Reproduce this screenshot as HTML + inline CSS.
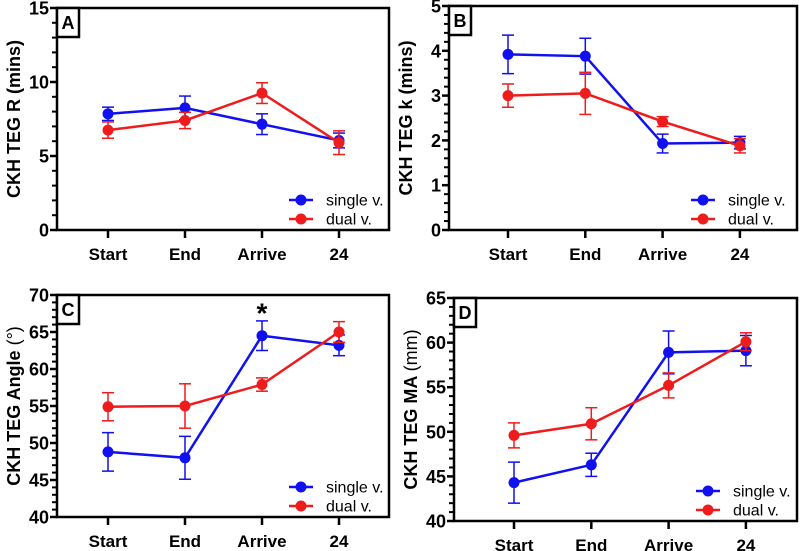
<!DOCTYPE html>
<html><head><meta charset="utf-8"><style>
html,body{margin:0;padding:0;background:#fff;}
svg{display:block;font-family:"Liberation Sans",Arial,sans-serif;}
</style></head><body>
<svg id="fig" width="800" height="551" viewBox="0 0 800 551" xmlns="http://www.w3.org/2000/svg"></svg>
<script>
const categories = ["Start","End","Arrive","24"];
const seriesNames = ["single v.","dual v."];
const aSingle = [7.85,8.25,7.15,6.05], aSingleErr = [0.45,0.8,0.7,0.5];
const aDual = [6.75,7.4,9.25,5.9], aDualErr = [0.55,0.55,0.7,0.8];
const bSingle = [3.92,3.88,1.93,1.95], bSingleErr = [0.43,0.4,0.21,0.14];
const bDual = [3.0,3.05,2.42,1.88], bDualErr = [0.26,0.47,0.11,0.16];
const cSingle = [48.8,48.0,64.5,63.2], cSingleErr = [2.6,2.9,2.0,1.4];
const cDual = [54.9,55.0,57.9,65.0], cDualErr = [1.9,3.0,0.9,1.4];
const dSingle = [44.3,46.3,58.9,59.1], dSingleErr = [2.3,1.3,2.4,1.7];
const dDual = [49.6,50.9,55.2,60.1], dDualErr = [1.4,1.8,1.4,1.0];
const aTicks = [0,5,10,15], bTicks = [0,1,2,3,4,5], cTicks = [40,45,50,55,60,65,70], dTicks = [40,45,50,55,60,65];

const NS="http://www.w3.org/2000/svg";
const svg=document.getElementById('fig');
function mk(tag,attrs,parent){const e=document.createElementNS(NS,tag);for(const k in attrs)e.setAttribute(k,attrs[k]);(parent||svg).appendChild(e);return e;}
const BLUE="#1010f0", RED="#ee1c1c";

function panel(p){
  const g=mk('g',{});
  
  
  const ymin=p.ticks[0], ymax=p.ticks[p.ticks.length-1];
  const y=v=>p.bottom-(v-ymin)/(ymax-ymin)*(p.bottom-p.top);
  const x=i=>p.x0+i*p.dx;
  const fr=mk('rect',{x:p.left,y:p.top,width:p.right-p.left,height:p.bottom-p.top,fill:'none',stroke:'#000','stroke-width':2.5},g);
  
  
  const step=p.ticks[1]-p.ticks[0];
  p.ticks.forEach((t,k)=>{
    mk('line',{x1:p.left-7,x2:p.left,y1:y(t),y2:y(t),stroke:'#000','stroke-width':2.5},g);
    const tx=mk('text',{x:p.left-8,y:y(t)+6.5,'text-anchor':'end','font-size':18,'font-weight':'bold'},g);
    tx.textContent=t;
    
    
    if(k<p.ticks.length-1){for(let m=1;m<5;m++){const v=t+step*m/5;mk('line',{x1:p.left-5,x2:p.left,y1:y(v),y2:y(v),stroke:'#000','stroke-width':2},g);}}
  });
  categories.forEach((c,i)=>{
    mk('line',{x1:x(i),x2:x(i),y1:p.bottom,y2:p.bottom+8,stroke:'#000','stroke-width':2.5},g);
    const tx=mk('text',{x:x(i),y:p.bottom+30,'text-anchor':'middle','font-size':17,'font-weight':'bold'},g);
    tx.textContent=c;
    
    
  });
  const yt=mk('text',{transform:`translate(${p.left-37},${(p.top+p.bottom)/2}) rotate(-90)`,'text-anchor':'middle','font-size':18,'font-weight':'bold'},g);
  yt.innerHTML=p.title;
  
  
  const lb=mk('rect',{x:p.left,y:p.top,width:22,height:29,fill:'#fff',stroke:'#000','stroke-width':2.5},g);
  
  
  const lt=mk('text',{x:p.left+11,y:p.top+21,'text-anchor':'middle','font-size':18,'font-weight':'bold'},g);
  lt.textContent=p.letter;
  
  
  [[p.s,p.se,BLUE,'single'],[p.d,p.de,RED,'dual']].forEach(([vals,errs,col,nm])=>{
    const sg=mk('g',{},g);
    
    
    vals.forEach((v,i)=>{
      const e1=y(v-errs[i]),e2=y(v+errs[i]);
      mk('line',{x1:x(i),x2:x(i),y1:e1,y2:e2,stroke:col,'stroke-width':1.5},sg);
      mk('line',{x1:x(i)-6,x2:x(i)+6,y1:e1,y2:e1,stroke:col,'stroke-width':1.5},sg);
      mk('line',{x1:x(i)-6,x2:x(i)+6,y1:e2,y2:e2,stroke:col,'stroke-width':1.5},sg);
    });
    mk('polyline',{points:vals.map((v,i)=>x(i)+','+y(v)).join(' '),fill:'none',stroke:col,'stroke-width':2.5},sg);
    vals.forEach((v,i)=>{const c=mk('circle',{cx:x(i),cy:y(v),r:5.5,fill:col},sg);});
  });
  const lg=mk('g',{},g);
  
  
  [[BLUE,seriesNames[0]],[RED,seriesNames[1]]].forEach(([col,nm],k)=>{
    const ly=p.legY+k*19;
    mk('line',{x1:p.legX,x2:p.legX+24,y1:ly,y2:ly,stroke:col,'stroke-width':2.5},lg);
    mk('circle',{cx:p.legX+12,cy:ly,r:5.5,fill:col},lg);
    const t=mk('text',{x:p.legX+37,y:ly+5.5,'font-size':16},lg);
    t.textContent=nm;
    
    
  });
  if(p.star){const st=mk('text',{x:x(2),y:y(p.star),'text-anchor':'middle','font-size':28,'font-weight':'bold'},g);st.textContent='*';}
}
panel({letter:'A',left:57,right:389,top:8,bottom:230,x0:108,dx:77,ticks:aTicks,s:aSingle,se:aSingleErr,d:aDual,de:aDualErr,title:'CKH TEG R (mins)',legX:289,legY:200});
panel({letter:'B',left:449,right:797,top:6,bottom:230,x0:508,dx:77.3,ticks:bTicks,s:bSingle,se:bSingleErr,d:bDual,de:bDualErr,title:'CKH TEG k (mins)',legX:691,legY:200});
panel({letter:'C',left:57,right:389,top:295,bottom:517,x0:108,dx:77,ticks:cTicks,s:cSingle,se:cSingleErr,d:cDual,de:cDualErr,title:'CKH TEG Angle <tspan font-weight="normal">(°)</tspan>',legX:289,legY:487,star:66.3});
panel({letter:'D',left:454,right:797,top:298,bottom:521,x0:514,dx:77.3,ticks:dTicks,s:dSingle,se:dSingleErr,d:dDual,de:dDualErr,title:'CKH TEG MA <tspan font-weight="normal">(mm)</tspan>',legX:696,legY:491});
</script>
</body></html>
